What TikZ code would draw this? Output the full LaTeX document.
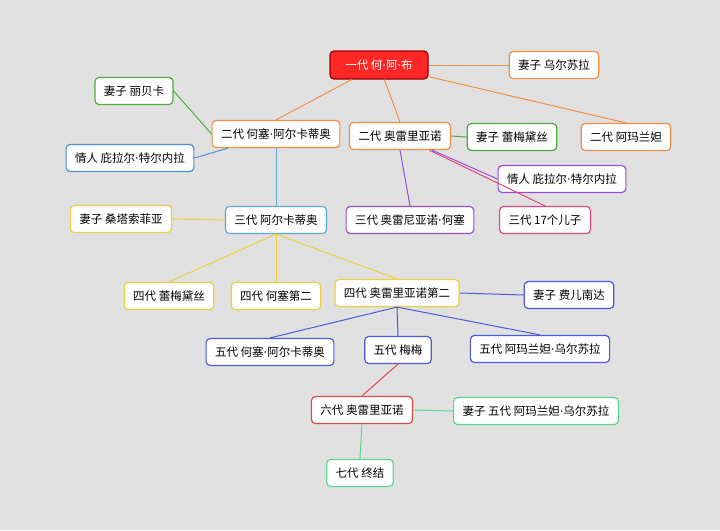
\documentclass[tikz,border=0pt]{standalone}
\usepackage{fontspec}
\setmainfont{Noto Sans CJK SC}
\newfontfamily\dotfont{DejaVu Sans}
\newcommand{\md}{{\dotfont ·}}
\begin{document}
\begin{tikzpicture}[x=1pt,y=-1pt,
  box/.style={draw=#1,line width=1.2pt,rounded corners=4pt,fill=white,minimum height=27pt,inner xsep=9pt,font=\fontsize{11.5}{13}\selectfont},
  ln/.style={draw=#1,line width=1pt}]
\definecolor{cor}{HTML}{F0904A}\definecolor{cgr}{HTML}{4CAF3C}\definecolor{cbl}{HTML}{4A8FD8}
\definecolor{cpu}{HTML}{9B4DD6}\definecolor{cpk}{HTML}{E04A7A}\definecolor{cye}{HTML}{EFD040}
\definecolor{cin}{HTML}{4A5CD8}\definecolor{crd}{HTML}{E04848}\definecolor{clg}{HTML}{5AD890}
\definecolor{clb}{HTML}{5AAAD8}\definecolor{bg}{HTML}{E1E1E1}
\fill[bg] (0,0) rectangle (720,530);
\useasboundingbox (0,0) rectangle (720,530);
\node[box=red!60!black,fill=red!85!white,text=white,minimum width=98pt,minimum height=28pt] (g1) at (379,65) {一代 何\md 阿\md 布};
\node[box=cor] (u) at (554,65) {妻子 乌尔苏拉};
\node[box=cgr] (rb) at (134,91) {妻子 丽贝卡};
\node[box=cor] (j2) at (276,134) {二代 何塞\md 阿尔卡蒂奥};
\node[box=cor] (a2) at (400,136) {二代 奥雷里亚诺};
\node[box=cgr] (rm) at (512,137) {妻子 蕾梅黛丝};
\node[box=cor] (am) at (626,137) {二代 阿玛兰妲};
\node[box=cbl] (p1) at (130,158) {情人 庇拉尔\md 特尔内拉};
\node[box=cpu] (p2) at (562,179) {情人 庇拉尔\md 特尔内拉};
\node[box=cye] (st) at (121,219) {妻子 桑塔索菲亚};
\node[box=clb] (a3) at (276,220) {三代 阿尔卡蒂奥};
\node[box=cpu] (o3) at (410,220) {三代 奥雷尼亚诺\md 何塞};
\node[box=cpk] (s17) at (545,220) {三代 17个儿子};
\node[box=cye] (r4) at (169,296) {四代 蕾梅黛丝};
\node[box=cye] (j4) at (276,296) {四代 何塞第二};
\node[box=cye] (o4) at (397,293) {四代 奥雷里亚诺第二};
\node[box=cin] (f) at (569,295) {妻子 费儿南达};
\node[box=cin] (j5) at (270,352) {五代 何塞\md 阿尔卡蒂奥};
\node[box=cin] (m5) at (398,350) {五代 梅梅};
\node[box=cin] (am5) at (540,349) {五代 阿玛兰妲\md 乌尔苏拉};
\node[box=crd] (o6) at (362,410) {六代 奥雷里亚诺};
\node[box=clg] (w6) at (536,411) {妻子 五代 阿玛兰妲\md 乌尔苏拉};
\node[box=clg] (e7) at (360,473) {七代 终结};
\path (g1.east) edge[ln=cor] (u.west) (g1) edge[ln=cor] (j2.north) (g1) edge[ln=cor] (a2.north) (g1) edge[ln=cor] (am.north);
\path (j2.west) edge[ln=cgr] (rb.east) (j2) edge[ln=cbl] (p1.east) (j2.south) edge[ln=clb] (a3.north);
\path (a2.east) edge[ln=cgr] (rm.west) (a2) edge[ln=cpu] (p2.west) (a2.south) edge[ln=cpu] (o3.north) (a2) edge[ln=cpk] (s17.north);
\path (a3.west) edge[ln=cye] (st.east) (a3.south) edge[ln=cye] (r4.north) (a3.south) edge[ln=cye] (j4.north) (a3.south) edge[ln=cye] (o4.north);
\path (o4.east) edge[ln=cin] (f.west) (o4.south) edge[ln=cin] (j5.north) (o4.south) edge[ln=cin] (m5.north) (o4.south) edge[ln=cin] (am5.north);
\path (m5.south) edge[ln=crd] (o6.north) (o6.east) edge[ln=clg] (w6.west) (o6.south) edge[ln=clg] (e7.north);
\end{tikzpicture}
\end{document}
